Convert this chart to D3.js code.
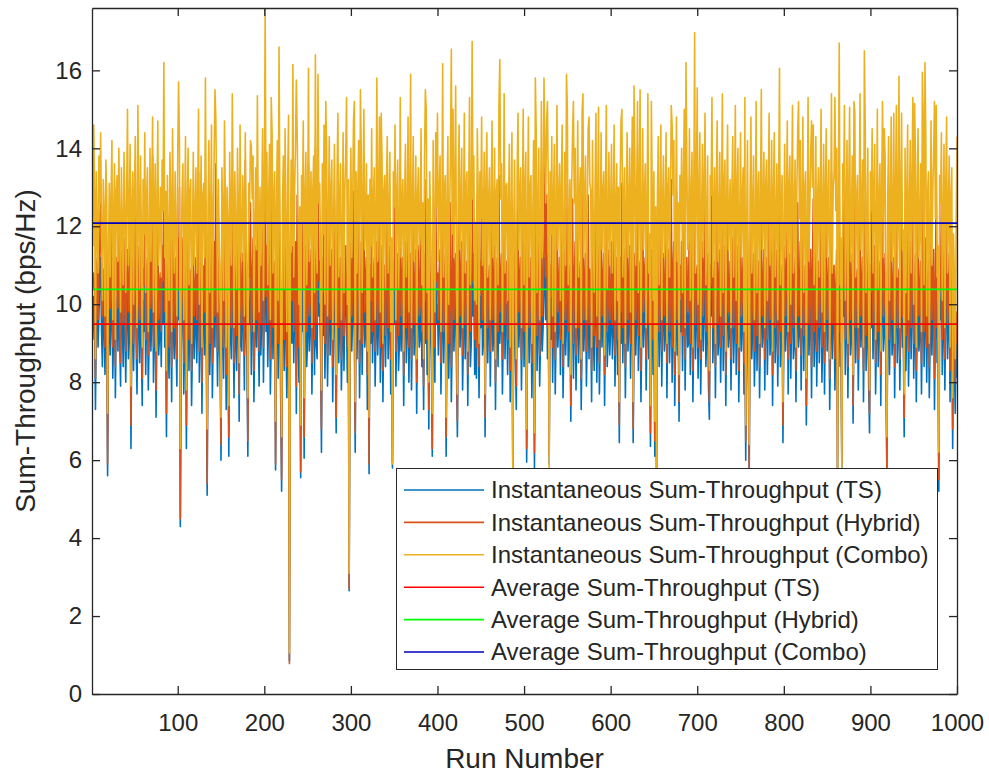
<!DOCTYPE html>
<html>
<head>
<meta charset="utf-8">
<script src="https://d3js.org/d3.v7.min.js"></script>
<style>
  body { margin: 0; background: #fff; }
  text { font-family: "Liberation Sans", Arial, Helvetica, sans-serif; }
</style>
</head>
<body>
<div id="chart"></div>
<script>
// instantaneous sum-throughput per run (runs 1..1000, 20 per row)
var tsValues = [
  9.4, 9.1, 10.2, 9.6, 7.3, 9.8, 10.4, 8.9, 9.7, 10.8, 11.2, 9.3, 8.4, 10.1, 9.5, 8.2, 10.6, 9.9, 5.6, 9.2,
  10.3, 8.7, 9.6, 11.0, 8.1, 9.4, 10.7, 7.6, 9.9, 10.2, 8.8, 11.4, 9.1, 7.9, 10.5, 9.7, 8.4, 10.9, 9.2, 8.0,
  9.8, 10.6, 8.6, 9.3, 11.1, 6.3, 9.5, 10.0, 8.3, 9.9, 11.6, 8.9, 7.7, 10.4, 9.6, 8.5, 10.8, 9.0, 7.4, 10.1,
  9.3, 11.3, 8.2, 9.7, 10.5, 7.8, 9.1, 10.9, 8.8, 9.6, 12.1, 8.0, 9.4, 10.3, 7.1, 9.8, 11.5, 8.7, 9.2, 10.0,
  8.4, 10.7, 9.5, 11.8, 8.9, 9.9, 6.6, 10.2, 9.0, 8.1, 10.8, 9.7, 7.5, 11.0, 9.3, 8.6, 10.4, 9.1, 7.9, 10.6,
  9.6, 11.4, 4.3, 8.8, 9.9, 10.5, 7.7, 9.2, 10.9, 6.3, 9.5, 11.2, 8.3, 9.8, 10.1, 7.4, 9.0, 10.7, 8.6, 9.4,
  10.3, 8.5, 9.7, 11.7, 8.0, 9.3, 10.6, 7.2, 9.9, 10.2, 8.7, 11.0, 9.1, 5.1, 9.6, 10.8, 8.2, 9.4, 11.3, 7.6,
  9.2, 10.5, 8.9, 11.9, 9.7, 7.9, 10.1, 9.0, 8.4, 6.0, 10.4, 9.5, 8.1, 11.1, 9.8, 7.3, 10.0, 9.3, 6.1, 10.7,
  9.4, 8.6, 11.5, 9.9, 7.6, 10.3, 9.1, 8.3, 10.8, 9.6, 7.0, 11.2, 9.0, 8.8, 10.2, 9.7, 7.8, 12.0, 9.3, 8.5,
  6.1, 10.1, 9.5, 11.0, 8.2, 9.8, 10.6, 7.5, 9.2, 10.4, 8.9, 11.6, 9.4, 7.9, 10.0, 8.7, 9.6, 11.3, 8.0, 9.9,
  11.8, 9.3, 10.7, 8.4, 9.7, 10.9, 7.7, 9.1, 11.2, 8.6, 9.8, 10.3, 5.75, 9.5, 11.0, 8.1, 12.3, 9.6, 7.4, 5.2,
  9.7, 10.6, 8.3, 11.4, 9.2, 7.6, 10.1, 9.8, 0.85, 8.9, 10.5, 9.0, 12.2, 8.5, 9.9, 10.8, 7.2, 11.1, 9.4, 8.0,
  9.6, 5.55, 10.2, 9.3, 11.5, 6.05, 9.8, 10.7, 8.4, 9.1, 11.9, 8.8, 9.5, 10.3, 7.7, 9.9, 10.6, 8.2, 11.2, 9.0,
  8.6, 12.6, 9.7, 10.0, 8.9, 6.2, 10.4, 9.2, 11.3, 8.1, 9.6, 10.8, 7.9, 9.4, 11.0, 8.7, 9.8, 10.5, 7.5, 9.3,
  10.9, 9.1, 6.7, 10.2, 11.6, 8.5, 9.7, 10.4, 7.8, 9.0, 11.1, 8.3, 9.9, 10.6, 9.4, 8.0, 10.1, 2.65, 9.5, 10.8,
  8.8, 9.6, 11.4, 9.2, 6.2, 10.3, 8.6, 9.9, 11.0, 7.6, 9.4, 10.7, 8.2, 9.7, 12.0, 8.9, 9.3, 10.5, 7.3, 9.8,
  5.65, 10.1, 9.0, 11.2, 8.5, 9.7, 10.4, 7.9, 9.3, 10.9, 8.7, 9.6, 11.5, 8.0, 9.2, 10.6, 7.5, 9.8, 10.2, 8.4,
  9.9, 11.0, 8.6, 9.4, 10.7, 7.7, 9.1, 5.8, 10.3, 9.5, 11.3, 7.9, 9.8, 10.5, 8.3, 9.0, 11.8, 8.8, 9.6, 10.1,
  7.4, 9.7, 10.8, 8.5, 9.3, 11.4, 8.0, 9.9, 10.2, 7.8, 9.5, 11.0, 8.7, 9.2, 10.6, 7.2, 9.8, 10.4, 8.9, 9.1,
  11.2, 8.4, 9.6, 7.3, 10.5, 9.0, 11.6, 8.2, 9.7, 6.8, 10.3, 9.4, 8.6, 6.1, 10.9, 9.2, 8.0, 11.1, 9.5, 10.0,
  8.7, 9.8, 10.6, 7.7, 9.3, 11.3, 8.5, 9.9, 10.2, 6.1, 9.6, 11.0, 8.1, 9.4, 10.7, 7.5, 9.1, 11.7, 8.8, 9.7,
  10.4, 8.3, 6.6, 10.0, 11.2, 8.9, 9.5, 10.8, 7.8, 9.2, 11.5, 8.6, 9.9, 10.3, 7.4, 9.6, 11.9, 8.4, 9.0, 11.8,
  9.7, 10.5, 8.2, 9.3, 8.1, 11.1, 9.8, 7.6, 10.2, 9.4, 11.4, 8.7, 9.1, 10.6, 6.6, 9.9, 11.0, 8.5, 9.6, 10.3,
  7.9, 9.5, 11.3, 8.8, 9.2, 10.7, 7.3, 9.8, 10.1, 8.4, 11.6, 9.0, 9.7, 10.4, 7.7, 9.3, 11.8, 8.6, 9.9, 10.0,
  8.2, 9.6, 10.8, 7.5, 9.4, 11.0, 5.7, 9.1, 10.5, 8.7, 7.3, 10.2, 11.5, 8.9, 9.7, 10.3, 7.8, 9.5, 11.2, 8.4,
  9.8, 10.6, 5.95, 9.3, 11.4, 8.5, 9.9, 10.1, 7.6, 9.2, 10.9, 5.8, 9.7, 11.1, 8.3, 9.5, 10.7, 7.9, 9.0, 11.7,
  8.8, 9.4, 10.5, 11.2, 9.6, 11.3, 8.6, 9.9, 5.9, 10.2, 9.1, 11.0, 8.0, 9.7, 10.8, 7.7, 9.3, 11.6, 8.9, 9.5,
  10.4, 8.2, 9.8, 11.2, 7.6, 9.0, 10.6, 8.7, 9.5, 11.5, 8.4, 9.2, 10.1, 7.0, 9.9, 11.0, 8.1, 9.6, 10.7, 7.8,
  9.4, 11.3, 8.5, 9.7, 10.3, 7.3, 9.1, 11.8, 8.8, 9.6, 10.5, 7.9, 9.3, 11.1, 8.6, 10.0, 9.8, 7.5, 10.9, 9.2,
  8.3, 9.9, 11.4, 8.0, 9.5, 10.7, 7.7, 9.2, 11.0, 8.9, 9.7, 10.2, 7.4, 9.8, 11.6, 8.4, 9.1, 10.6, 8.7, 9.4,
  10.8, 8.6, 9.3, 11.2, 7.9, 9.6, 10.4, 8.2, 9.9, 6.45, 10.1, 9.0, 11.5, 8.5, 9.7, 10.3, 7.6, 9.4, 11.0, 8.8,
  9.5, 10.7, 8.1, 9.8, 11.3, 6.45, 9.2, 10.5, 8.7, 9.6, 11.7, 8.3, 9.9, 10.0, 7.5, 9.3, 11.1, 8.9, 9.7, 10.4,
  7.8, 9.4, 11.4, 8.6, 9.1, 6.35, 10.6, 9.8, 8.2, 10.2, 6.1, 9.5, 5.7, 9.7, 10.9, 8.4, 9.3, 11.2, 7.9, 9.6,
  10.5, 8.8, 9.2, 11.0, 7.6, 9.9, 10.3, 8.5, 9.4, 11.6, 8.0, 9.7, 10.8, 7.4, 9.1, 11.3, 8.7, 9.6, 7.0, 10.1,
  9.3, 10.7, 8.3, 9.8, 11.5, 7.8, 9.5, 10.4, 8.9, 9.0, 11.1, 8.2, 9.7, 10.6, 7.5, 9.4, 12.1, 8.6, 9.9, 10.2,
  8.1, 9.6, 11.0, 7.7, 9.3, 10.8, 8.8, 9.9, 11.4, 8.4, 9.2, 10.5, 7.9, 7.05, 10.1, 9.7, 11.7, 8.5, 9.4, 10.3,
  7.6, 9.8, 11.2, 8.7, 9.1, 10.6, 8.0, 9.5, 11.8, 8.3, 9.9, 10.4, 7.4, 9.6, 11.1, 8.9, 9.3, 10.0, 7.8, 9.7,
  10.9, 8.5, 9.4, 11.5, 8.2, 9.8, 10.7, 7.5, 9.2, 11.0, 8.8, 9.6, 10.3, 7.7, 9.9, 6.0, 9.1, 10.8, 8.4, 5.6,
  9.7, 11.3, 8.6, 9.4, 10.5, 7.9, 9.0, 11.6, 8.3, 9.8, 10.2, 7.6, 9.5, 11.1, 8.9, 9.3, 10.6, 7.8, 9.9, 10.4,
  8.2, 9.6, 11.4, 8.7, 9.1, 10.8, 7.4, 9.7, 11.0, 8.5, 9.3, 10.3, 7.9, 9.8, 11.7, 8.4, 9.5, 10.1, 6.45, 9.2,
  10.7, 8.8, 9.4, 11.2, 7.7, 9.9, 10.5, 8.1, 9.6, 11.5, 8.6, 9.0, 10.4, 7.5, 9.7, 11.0, 8.9, 9.3, 10.8, 7.8,
  9.5, 11.3, 8.3, 9.8, 10.2, 6.9, 9.1, 11.6, 8.7, 9.4, 10.6, 7.6, 9.9, 11.1, 8.4, 9.2, 10.9, 7.9, 9.6, 10.3,
  8.5, 9.7, 11.4, 8.0, 9.3, 10.7, 7.7, 9.8, 11.0, 8.8, 9.5, 10.4, 7.3, 9.1, 11.8, 8.6, 9.9, 10.1, 7.8, 9.4,
  10.6, 5.7, 9.6, 11.2, 8.4, 9.0, 5.8, 10.3, 9.7, 11.5, 8.2, 9.4, 10.8, 7.6, 9.9, 11.0, 8.7, 9.2, 10.5, 6.95,
  9.8, 11.3, 8.5, 9.6, 10.1, 7.8, 9.3, 11.7, 8.9, 9.5, 10.4, 7.5, 9.7, 11.1, 8.3, 9.1, 10.6, 7.9, 6.7, 10.2,
  9.4, 11.0, 8.6, 9.8, 10.7, 7.7, 9.2, 11.4, 8.4, 9.6, 10.3, 7.4, 9.9, 11.6, 8.8, 9.3, 10.5, 8.0, 5.7, 9.7,
  10.9, 8.2, 9.5, 11.2, 8.7, 9.1, 10.4, 7.6, 9.8, 11.5, 8.5, 9.4, 10.0, 7.8, 9.6, 11.3, 8.9, 9.2, 6.6, 10.6,
  8.3, 9.7, 11.1, 7.9, 9.4, 10.8, 8.6, 9.9, 11.7, 8.1, 9.3, 10.5, 7.5, 9.6, 11.0, 8.8, 9.2, 10.3, 7.7, 9.8,
  11.4, 8.4, 9.5, 10.9, 8.0, 9.7, 10.2, 7.6, 9.1, 11.2, 8.7, 9.8, 10.6, 7.3, 9.4, 11.5, 8.5, 9.0, 5.2, 10.1,
  9.6, 11.0, 8.2, 9.3, 10.7, 7.8, 9.9, 11.3, 8.6, 9.4, 10.5, 7.5, 9.7, 10.2, 6.3, 9.1, 8.4, 7.2, 9.0, 8.1
];

var hybridValues = [
  10.3, 10.4, 10.8, 10.5, 8.1, 10.9, 11.2, 9.6, 11.0, 11.5, 13.1, 10.0, 9.7, 10.9, 10.6, 8.9, 12.6, 10.7, 5.9, 10.4,
  11.1, 9.9, 10.2, 12.9, 8.9, 10.6, 11.3, 8.4, 11.2, 10.9, 9.9, 13.0, 10.3, 8.5, 11.6, 10.4, 9.5, 11.7, 10.1, 8.8,
  10.7, 11.4, 9.8, 10.1, 12.8, 6.9, 10.5, 11.2, 9.0, 10.8, 13.2, 9.7, 8.6, 11.5, 10.3, 9.6, 11.6, 10.2, 8.1, 10.9,
  10.5, 12.8, 9.1, 10.9, 11.2, 8.7, 10.3, 11.6, 9.9, 10.4, 13.8, 8.9, 10.1, 11.4, 7.8, 10.7, 13.1, 9.6, 10.4, 10.8,
  9.3, 11.5, 10.6, 13.3, 9.8, 11.0, 7.2, 11.1, 10.2, 8.9, 12.7, 10.4, 8.4, 12.6, 10.5, 9.4, 11.2, 10.3, 8.6, 11.7,
  10.4, 13.0, 4.5, 9.9, 10.6, 11.7, 8.5, 10.1, 11.6, 6.9, 10.7, 12.8, 9.1, 10.9, 10.8, 8.3, 10.1, 11.5, 9.7, 10.2,
  11.2, 9.6, 10.4, 13.4, 8.8, 10.5, 11.3, 8.0, 11.0, 10.9, 9.8, 12.7, 10.2, 5.4, 10.4, 12.7, 9.0, 10.6, 12.8, 8.5,
  10.1, 11.6, 9.7, 13.6, 10.4, 8.8, 11.2, 9.8, 9.5, 6.4, 11.3, 10.6, 8.9, 12.8, 10.5, 8.2, 11.1, 10.0, 6.6, 11.5,
  10.6, 9.4, 13.1, 10.7, 8.5, 11.4, 10.0, 9.2, 11.5, 10.8, 7.7, 12.9, 10.1, 9.5, 11.3, 10.4, 8.7, 13.7, 10.2, 9.6,
  6.5, 11.0, 10.7, 12.6, 9.3, 10.5, 11.7, 8.3, 10.0, 11.5, 9.6, 13.2, 10.3, 8.8, 11.1, 9.5, 10.8, 12.9, 8.9, 10.6,
  13.5, 10.2, 11.5, 9.5, 10.4, 12.6, 8.6, 10.3, 12.8, 9.4, 10.9, 11.1, 5.9, 10.6, 11.7, 9.0, 14.0, 10.4, 8.3, 5.5,
  10.5, 11.7, 9.1, 13.1, 10.3, 8.4, 11.0, 10.6, 0.78, 9.8, 11.3, 10.1, 13.9, 9.3, 10.8, 11.6, 7.9, 12.8, 10.2, 8.9,
  10.7, 5.7, 11.0, 10.4, 13.0, 6.6, 10.9, 11.5, 9.3, 10.0, 13.6, 9.7, 10.3, 11.4, 8.5, 10.6, 12.6, 9.1, 14.0, 9.9,
  9.5, 14.2, 10.6, 11.1, 9.7, 6.8, 11.2, 10.3, 12.9, 9.0, 10.4, 12.7, 8.7, 10.5, 12.6, 9.6, 10.6, 11.4, 8.4, 10.2,
  12.6, 10.0, 7.1, 11.3, 13.2, 9.4, 10.5, 11.2, 8.6, 10.1, 12.7, 9.2, 10.8, 11.5, 10.2, 8.9, 11.0, 2.7, 10.4, 11.6,
  9.7, 10.5, 12.9, 10.3, 6.7, 11.2, 9.5, 10.8, 12.7, 8.5, 10.2, 11.6, 9.0, 10.9, 13.5, 9.8, 10.4, 11.2, 8.2, 10.6,
  5.9, 11.0, 10.1, 12.8, 9.3, 10.8, 11.2, 8.8, 10.4, 11.6, 9.5, 10.7, 13.1, 8.9, 10.0, 11.5, 8.3, 10.9, 11.0, 9.2,
  10.8, 12.7, 9.4, 10.5, 11.5, 8.6, 10.2, 5.95, 11.1, 10.4, 13.0, 8.8, 10.6, 11.3, 9.2, 10.1, 13.4, 9.7, 10.5, 11.2,
  8.2, 10.8, 11.6, 9.4, 10.1, 13.1, 8.9, 10.7, 11.3, 8.6, 10.4, 12.6, 9.5, 10.3, 11.4, 8.0, 10.6, 11.5, 9.7, 10.0,
  12.8, 9.3, 10.7, 7.9, 11.3, 10.1, 13.2, 9.1, 10.5, 7.3, 11.4, 10.2, 9.4, 6.3, 11.7, 10.3, 8.9, 12.7, 10.6, 10.8,
  9.6, 10.9, 11.4, 8.5, 10.4, 12.9, 9.3, 10.7, 11.3, 6.6, 10.5, 12.7, 9.0, 10.2, 12.6, 8.4, 10.0, 13.3, 9.6, 10.8,
  11.3, 9.2, 7.0, 11.1, 12.8, 9.7, 10.6, 11.6, 8.7, 10.0, 13.1, 9.5, 10.8, 11.1, 8.2, 10.7, 13.4, 9.3, 10.1, 14.6,
  10.6, 11.3, 9.1, 10.4, 8.9, 12.8, 10.5, 8.4, 11.1, 10.3, 13.0, 9.6, 10.0, 11.5, 7.1, 10.8, 12.7, 9.4, 10.7, 11.0,
  8.8, 10.4, 13.0, 9.6, 10.3, 11.5, 8.0, 10.9, 11.2, 9.3, 13.3, 9.8, 10.5, 11.3, 8.6, 10.1, 13.5, 9.5, 10.6, 11.1,
  9.1, 10.7, 11.6, 8.3, 10.2, 12.7, 5.85, 10.0, 11.4, 9.5, 7.9, 11.1, 13.1, 9.8, 10.5, 11.2, 8.6, 10.6, 12.8, 9.3,
  10.7, 11.5, 6.3, 10.2, 13.0, 9.4, 10.6, 11.2, 8.5, 10.1, 12.6, 6.2, 10.8, 12.7, 9.2, 10.3, 11.6, 8.7, 10.0, 13.4,
  9.7, 10.3, 11.4, 13.6, 10.7, 12.8, 9.4, 10.8, 6.1, 11.0, 10.2, 12.6, 8.9, 10.6, 11.5, 8.6, 10.4, 13.2, 9.8, 10.3,
  11.2, 9.1, 10.9, 12.8, 8.4, 10.1, 11.4, 9.6, 10.3, 13.1, 9.3, 10.3, 11.0, 7.4, 10.7, 12.7, 9.0, 10.5, 11.6, 8.7,
  10.3, 12.9, 9.4, 10.8, 11.1, 8.1, 10.2, 13.4, 9.6, 10.4, 11.3, 8.8, 10.1, 12.8, 9.5, 10.9, 10.6, 8.3, 11.7, 10.1,
  9.2, 10.8, 13.0, 8.9, 10.6, 11.5, 8.5, 10.3, 12.6, 9.7, 10.5, 11.3, 8.2, 10.6, 13.2, 9.3, 10.0, 11.4, 9.6, 10.2,
  11.6, 9.5, 10.4, 12.8, 8.7, 10.7, 11.2, 9.1, 10.8, 6.9, 11.2, 9.8, 13.1, 9.4, 10.5, 11.4, 8.4, 10.2, 12.7, 9.6,
  10.4, 11.5, 9.0, 10.9, 12.9, 6.8, 10.3, 11.3, 9.6, 10.4, 13.3, 9.2, 10.7, 11.1, 8.3, 10.1, 12.7, 9.8, 10.8, 11.2,
  8.6, 10.3, 13.0, 9.5, 10.2, 6.7, 11.4, 10.6, 9.1, 11.0, 6.5, 10.4, 5.8, 10.8, 11.7, 9.3, 10.1, 12.8, 8.8, 10.5,
  11.3, 9.7, 10.3, 12.6, 8.5, 10.7, 11.4, 9.3, 10.2, 13.2, 8.9, 10.8, 11.6, 8.2, 10.0, 12.9, 9.6, 10.4, 7.5, 11.0,
  10.2, 11.6, 9.2, 10.6, 13.1, 8.6, 10.6, 11.2, 9.8, 10.1, 12.7, 9.0, 10.5, 11.7, 8.3, 10.3, 13.7, 9.5, 10.8, 11.0,
  8.9, 10.5, 12.6, 8.6, 10.4, 11.6, 9.7, 10.7, 13.0, 9.3, 10.3, 11.3, 8.7, 7.5, 11.0, 10.5, 13.3, 9.4, 10.2, 11.1,
  8.4, 10.6, 12.9, 9.5, 10.2, 11.4, 8.9, 10.3, 13.4, 9.2, 10.7, 11.5, 8.2, 10.4, 12.7, 9.8, 10.1, 11.1, 8.6, 10.5,
  11.7, 9.4, 10.5, 13.1, 9.0, 10.6, 11.5, 8.3, 10.3, 12.6, 9.7, 10.4, 11.2, 8.5, 10.7, 6.5, 10.0, 11.6, 9.3, 5.7,
  10.5, 12.9, 9.5, 10.3, 11.3, 8.8, 10.1, 13.2, 9.2, 10.6, 11.1, 8.4, 10.3, 12.7, 9.7, 10.2, 11.4, 8.6, 10.8, 11.2,
  9.1, 10.4, 13.0, 9.6, 10.0, 11.6, 8.2, 10.8, 12.6, 9.4, 10.1, 11.4, 8.7, 10.6, 13.3, 9.3, 10.3, 11.0, 6.9, 10.1,
  11.5, 9.7, 10.5, 12.8, 8.6, 10.7, 11.3, 9.0, 10.4, 13.1, 9.4, 10.1, 11.2, 8.3, 10.6, 12.6, 9.7, 10.2, 11.6, 8.7,
  10.3, 12.9, 9.2, 10.9, 11.0, 7.4, 10.2, 13.2, 9.5, 10.3, 11.4, 8.4, 10.8, 12.7, 9.3, 10.1, 11.7, 8.8, 10.4, 11.1,
  9.4, 10.5, 13.0, 8.9, 10.4, 11.5, 8.5, 10.6, 12.7, 9.6, 10.3, 11.2, 8.1, 10.0, 13.4, 9.5, 10.7, 11.0, 8.6, 10.3,
  11.4, 5.8, 10.5, 12.8, 9.3, 10.1, 5.9, 11.1, 10.5, 13.1, 9.1, 10.2, 11.6, 8.4, 10.7, 12.7, 9.6, 10.1, 11.3, 7.4,
  10.6, 12.9, 9.4, 10.7, 10.9, 8.6, 10.4, 13.3, 9.7, 10.3, 11.2, 8.3, 10.5, 12.7, 9.2, 10.0, 11.4, 8.7, 7.2, 11.0,
  10.3, 12.6, 9.5, 10.6, 11.5, 8.5, 10.3, 13.0, 9.3, 10.4, 11.1, 8.2, 10.7, 13.2, 9.7, 10.2, 11.3, 8.9, 5.8, 10.5,
  11.7, 9.1, 10.4, 12.8, 9.6, 10.2, 11.2, 8.4, 10.6, 13.1, 9.4, 10.5, 10.9, 8.6, 10.4, 12.9, 9.7, 10.1, 7.1, 11.4,
  9.2, 10.5, 12.7, 8.8, 10.5, 11.6, 9.4, 10.7, 13.3, 9.0, 10.4, 11.3, 8.3, 10.4, 12.6, 9.7, 10.1, 11.1, 8.5, 10.6,
  13.0, 9.3, 10.4, 11.7, 8.9, 10.5, 11.1, 8.4, 10.2, 12.8, 9.6, 10.6, 11.4, 8.1, 10.3, 13.1, 9.4, 10.0, 5.5, 10.9,
  10.4, 12.6, 9.1, 10.4, 11.5, 8.6, 10.7, 12.9, 9.5, 10.2, 11.3, 8.3, 10.6, 11.0, 6.8, 10.0, 9.3, 8.0, 9.8, 9.0
];

var comboValues = [
  12.5, 11.5, 14.6, 12.9, 8.6, 13.4, 11.9, 10.8, 13.8, 12.6, 14.4, 11.7, 10.1, 13.2, 12.4, 9.7, 13.7, 12.8, 7.2, 11.2,
  13.1, 10.7, 12.7, 14.2, 9.6, 12.2, 13.6, 9.1, 12.9, 13.3, 11.1, 14.0, 12.1, 9.8, 13.5, 11.8, 10.5, 13.9, 12.5, 10.3,
  12.8, 15.0, 11.0, 12.1, 14.1, 7.9, 12.6, 13.4, 10.0, 12.9, 14.3, 11.4, 9.4, 15.1, 12.4, 10.4, 13.8, 11.9, 8.9, 13.2,
  11.8, 14.4, 10.3, 12.7, 13.5, 9.3, 11.5, 14.0, 11.1, 12.6, 14.8, 9.8, 12.2, 13.6, 8.8, 12.5, 14.7, 11.0, 11.9, 13.0,
  10.7, 13.7, 12.4, 16.2, 11.2, 12.9, 8.3, 13.3, 11.7, 10.1, 13.9, 12.7, 9.3, 14.5, 12.2, 10.8, 13.4, 11.8, 9.7, 13.8,
  15.7, 14.1, 6.3, 11.4, 12.8, 13.6, 9.6, 12.1, 14.3, 7.8, 12.5, 14.0, 10.5, 12.9, 13.2, 9.0, 11.5, 13.9, 11.0, 12.2,
  13.5, 10.8, 12.6, 15.0, 10.0, 11.9, 13.8, 8.9, 12.8, 13.1, 11.2, 15.8, 11.8, 6.8, 12.4, 14.2, 10.3, 12.2, 14.6, 9.4,
  11.9, 13.7, 15.5, 14.8, 12.6, 9.8, 13.2, 11.5, 10.7, 7.1, 13.5, 12.4, 10.1, 14.7, 12.7, 8.9, 13.0, 12.1, 7.4, 13.9,
  12.2, 11.0, 15.4, 12.8, 9.4, 13.4, 11.7, 10.4, 14.0, 12.5, 8.5, 14.6, 11.5, 11.1, 13.3, 12.6, 9.7, 14.4, 11.9, 10.7,
  7.6, 13.1, 12.4, 14.2, 14.05, 12.7, 13.8, 9.3, 11.8, 13.5, 11.4, 15.35, 12.1, 9.8, 13.0, 11.0, 12.5, 14.5, 10.1, 12.9,
  17.6, 12.1, 13.9, 10.5, 12.6, 14.1, 9.6, 15.3, 14.4, 10.8, 12.8, 13.4, 7.0, 12.4, 14.2, 10.1, 16.6, 12.5, 9.0, 6.6,
  12.6, 13.8, 10.4, 14.5, 11.9, 9.3, 13.2, 14.85, 1.05, 11.2, 13.7, 11.5, 16.15, 10.7, 12.9, 14.0, 15.75, 14.3, 12.2, 10.0,
  12.5, 6.9, 13.3, 12.1, 14.7, 7.6, 12.8, 13.9, 10.5, 11.7, 16.05, 11.1, 12.4, 13.4, 9.4, 12.9, 13.8, 10.3, 16.4, 11.5,
  10.8, 15.9, 12.6, 13.1, 11.4, 7.8, 13.6, 11.8, 14.6, 10.0, 15.2, 14.0, 9.7, 12.2, 14.3, 11.0, 12.8, 13.7, 9.1, 12.1,
  14.1, 11.7, 8.2, 13.3, 14.9, 10.7, 12.7, 13.6, 9.6, 11.5, 14.4, 10.3, 12.9, 13.8, 15.3, 10.0, 13.2, 3.1, 12.4, 14.0,
  11.2, 12.5, 14.7, 15.2, 7.5, 13.4, 10.8, 12.9, 14.2, 9.1, 15.5, 13.9, 10.3, 12.7, 15.0, 11.4, 12.1, 13.6, 8.8, 12.8,
  7.1, 13.2, 11.5, 14.5, 10.7, 12.7, 13.5, 9.6, 12.1, 15.8, 11.1, 12.6, 14.8, 9.8, 14.9, 13.7, 9.0, 12.9, 13.3, 10.4,
  13.0, 14.3, 10.8, 12.2, 13.9, 9.3, 11.7, 5.9, 13.4, 12.5, 14.6, 9.6, 12.8, 13.7, 10.4, 11.5, 15.3, 11.2, 12.6, 13.2,
  8.8, 12.7, 14.1, 10.7, 12.1, 14.8, 9.8, 12.9, 15.9, 9.4, 12.4, 14.3, 11.1, 11.9, 13.8, 8.6, 12.8, 13.5, 11.4, 11.8,
  14.5, 10.5, 12.6, 8.6, 13.7, 15.5, 15.0, 10.3, 12.7, 8.0, 13.4, 12.2, 10.8, 7.2, 14.2, 11.9, 9.8, 14.4, 12.5, 14.9,
  11.1, 12.8, 13.8, 9.3, 12.1, 16.17, 10.7, 12.9, 13.3, 7.1, 12.6, 14.3, 10.0, 12.2, 13.9, 16.54, 11.8, 15.0, 11.2, 12.7,
  15.6, 10.4, 7.7, 13.1, 14.6, 11.4, 12.5, 14.0, 9.4, 11.9, 14.9, 10.8, 13.0, 13.4, 8.8, 12.6, 15.3, 10.5, 11.7, 16.74,
  12.7, 13.8, 10.1, 12.1, 10.0, 14.5, 12.9, 9.0, 13.4, 12.2, 14.8, 11.0, 11.8, 13.9, 7.7, 13.0, 14.4, 10.7, 12.6, 13.5,
  9.6, 12.5, 14.7, 11.2, 11.9, 14.0, 8.6, 12.9, 13.2, 10.5, 15.1, 16.28, 12.7, 13.6, 9.3, 12.1, 15.4, 10.8, 13.0, 13.1,
  10.1, 12.6, 14.1, 8.9, 12.2, 14.4, 5.6, 11.8, 13.7, 11.1, 8.6, 13.4, 14.9, 11.4, 12.8, 13.5, 9.4, 12.5, 15.0, 10.5,
  12.9, 13.9, 6.8, 12.1, 14.8, 10.7, 13.0, 13.3, 9.0, 11.9, 14.2, 6.7, 15.8, 14.5, 10.3, 12.5, 14.0, 9.6, 11.5, 15.2,
  11.2, 12.4, 15.8, 14.0, 12.6, 14.7, 15.2, 13.0, 5.7, 13.4, 11.8, 14.3, 9.7, 12.7, 14.1, 9.3, 12.1, 15.1, 11.4, 12.5,
  13.6, 10.1, 12.9, 14.6, 9.0, 11.7, 13.9, 11.0, 15.9, 15.0, 10.5, 11.9, 13.2, 8.2, 13.0, 14.4, 15.2, 12.6, 14.0, 9.4,
  12.4, 14.7, 10.7, 12.8, 13.5, 8.6, 14.9, 15.4, 11.2, 12.6, 13.8, 9.6, 12.1, 14.5, 14.8, 13.1, 12.9, 8.9, 14.2, 11.9,
  10.3, 13.0, 14.9, 9.7, 12.5, 15.05, 9.1, 11.9, 14.4, 11.4, 12.8, 13.4, 8.7, 12.9, 15.1, 10.4, 11.8, 13.9, 11.0, 12.4,
  14.1, 10.8, 12.1, 14.6, 9.6, 12.6, 13.6, 10.1, 13.0, 7.5, 13.2, 14.7, 15.0, 10.7, 12.7, 13.5, 9.0, 12.4, 14.4, 11.2,
  12.5, 14.0, 9.8, 12.9, 14.8, 7.5, 15.6, 13.7, 11.0, 12.6, 15.2, 10.3, 13.0, 15.5, 8.9, 12.1, 14.5, 11.4, 12.8, 13.6,
  9.4, 12.4, 15.4, 10.8, 11.8, 7.4, 15.2, 12.9, 10.1, 13.4, 7.0, 12.5, 5.6, 12.8, 14.3, 10.5, 12.2, 14.6, 9.6, 12.6,
  13.8, 11.2, 11.9, 14.4, 9.0, 13.0, 13.5, 10.7, 12.4, 15.1, 14.6, 12.8, 14.2, 8.8, 11.8, 14.8, 11.1, 12.6, 8.2, 13.3,
  12.1, 14.0, 10.3, 12.9, 15.0, 9.4, 16.2, 13.6, 11.4, 11.7, 14.5, 10.1, 12.8, 13.9, 8.9, 12.4, 16.97, 10.8, 13.0, 15.55,
  10.0, 12.6, 14.4, 9.1, 12.2, 14.1, 11.2, 13.0, 14.9, 10.5, 11.9, 13.8, 9.6, 8.3, 13.3, 12.8, 15.3, 10.7, 12.4, 13.5,
  9.0, 12.9, 14.7, 11.1, 11.8, 13.9, 9.7, 12.5, 15.4, 10.3, 13.0, 13.7, 8.8, 12.6, 14.6, 11.4, 12.2, 13.2, 9.4, 12.8,
  14.3, 10.7, 12.4, 15.1, 10.1, 12.9, 14.0, 8.9, 11.9, 14.4, 11.2, 12.7, 13.5, 9.3, 15.3, 6.9, 11.8, 14.2, 10.5, 6.4,
  12.8, 14.8, 10.8, 12.4, 13.8, 9.6, 11.7, 15.2, 10.3, 12.9, 13.4, 9.0, 12.5, 15.5, 11.4, 12.2, 13.9, 9.4, 13.0, 13.7,
  10.1, 12.7, 14.9, 11.0, 11.8, 14.2, 8.8, 12.8, 14.4, 10.7, 12.2, 13.6, 9.6, 12.9, 16.05, 10.5, 12.5, 13.3, 7.5, 11.9,
  14.1, 11.2, 12.4, 14.7, 9.3, 13.0, 13.8, 10.0, 12.7, 15.1, 10.8, 11.7, 13.7, 8.9, 12.8, 14.4, 15.2, 12.2, 14.2, 9.4,
  12.5, 14.8, 10.3, 12.9, 13.4, 8.1, 11.8, 15.3, 11.1, 12.4, 13.9, 14.7, 13.0, 14.6, 10.5, 11.9, 14.3, 9.6, 12.7, 13.5,
  10.7, 12.8, 15.0, 9.8, 12.2, 14.1, 9.3, 12.9, 14.5, 11.2, 12.5, 13.7, 8.6, 11.8, 15.4, 10.8, 13.0, 13.3, 15.3, 12.4,
  14.0, 5.6, 12.6, 16.7, 10.5, 11.7, 5.7, 13.6, 12.8, 15.1, 10.1, 12.4, 14.2, 9.0, 13.0, 15.05, 11.1, 11.9, 13.8, 8.2,
  15.2, 14.9, 10.7, 12.7, 13.3, 9.4, 12.2, 15.4, 11.4, 12.5, 13.7, 8.9, 16.5, 14.6, 10.3, 11.8, 14.0, 9.6, 7.8, 13.4,
  12.4, 14.5, 10.8, 12.9, 14.1, 9.1, 11.9, 15.0, 10.4, 12.6, 13.6, 8.8, 13.0, 15.2, 11.2, 14.5, 13.8, 9.8, 6.6, 12.8,
  14.3, 10.1, 12.5, 14.8, 11.1, 11.8, 14.9, 9.0, 12.9, 15.1, 10.7, 12.4, 15.85, 9.4, 12.7, 14.9, 11.4, 11.9, 7.7, 14.0,
  10.3, 12.8, 14.6, 9.6, 12.4, 14.2, 10.8, 13.0, 15.3, 10.0, 15.15, 13.8, 8.9, 12.7, 14.5, 11.2, 11.9, 13.6, 9.3, 15.95,
  14.8, 10.5, 16.2, 14.3, 9.7, 12.8, 13.4, 9.0, 11.8, 14.7, 11.0, 12.9, 13.9, 15.2, 12.2, 15.1, 10.7, 11.5, 6.2, 13.3,
  12.6, 14.4, 10.1, 12.1, 14.1, 9.4, 13.0, 14.8, 10.8, 12.4, 13.8, 8.9, 12.8, 13.5, 7.6, 11.8, 10.7, 8.6, 11.9, 14.3
];

// averages
var averageValues = [9.49, 10.38, 12.08];

var instantNames = ["Instantaneous Sum-Throughput (TS)", "Instantaneous Sum-Throughput (Hybrid)", "Instantaneous Sum-Throughput (Combo)"];
var averageNames = ["Average Sum-Throughput (TS)", "Average Sum-Throughput (Hybrid)", "Average Sum-Throughput (Combo)"];
var instantColors = ["#0072BD", "#D95319", "#EDB120"];
var averageColors = ["#FF0000", "#00FF00", "#0000C0"];

var xTicks = [100, 200, 300, 400, 500, 600, 700, 800, 900, 1000];
var yTicks = [0, 2, 4, 6, 8, 10, 12, 14, 16];

var w = 989, h = 773;
var m = {left: 92, right: 957, top: 8, bottom: 694};
var ink = "#262626";

var svg = d3.select("#chart").append("svg").attr("width", w).attr("height", h);

var x = d3.scaleLinear().domain([1, 1000]).range([m.left, m.right]);
var y = d3.scaleLinear().domain([0, 17.6]).range([m.bottom, m.top]);

svg.append("defs").append("clipPath").attr("id", "plotclip")
  .append("rect").attr("x", m.left).attr("y", m.top)
  .attr("width", m.right - m.left).attr("height", m.bottom - m.top);

var plot = svg.append("g").attr("clip-path", "url(#plotclip)");

var line = d3.line()
  .x(function(d, i) { return x(i + 1); })
  .y(function(d) { return y(d); });

[tsValues, hybridValues, comboValues].forEach(function(vals, k) {
  plot.append("path").datum(vals)
    .attr("d", line)
    .attr("fill", "none")
    .attr("stroke", instantColors[k])
    .attr("stroke-width", 1.6)
    .attr("stroke-linejoin", "round");
});

averageValues.forEach(function(v, k) {
  plot.append("line")
    .attr("x1", x(1)).attr("x2", x(1000))
    .attr("y1", y(v)).attr("y2", y(v))
    .attr("stroke", averageColors[k])
    .attr("stroke-width", 1.7);
});

// axes, ticks pointing inwards on all four sides
function styleAxis(g) {
  g.attr("color", ink).attr("font-family", null).attr("font-size", null);
  g.selectAll(".domain, .tick line").attr("stroke-width", 1.3);
  g.selectAll(".tick text").attr("font-size", 24).attr("fill", ink);
}

svg.append("g").attr("transform", "translate(0," + m.bottom + ")")
  .call(d3.axisBottom(x).tickValues(xTicks).tickFormat(d3.format("d"))
    .tickSizeInner(-8).tickSizeOuter(0).tickPadding(20))
  .call(styleAxis);
svg.append("g").attr("transform", "translate(0," + m.top + ")")
  .call(d3.axisTop(x).tickValues(xTicks).tickSizeInner(-8).tickSizeOuter(0).tickFormat(""))
  .call(styleAxis);
svg.append("g").attr("transform", "translate(" + m.left + ",0)")
  .call(d3.axisLeft(y).tickValues(yTicks).tickSizeInner(-8).tickSizeOuter(0).tickPadding(10))
  .call(styleAxis);
svg.append("g").attr("transform", "translate(" + m.right + ",0)")
  .call(d3.axisRight(y).tickValues(yTicks).tickSizeInner(-8).tickSizeOuter(0).tickFormat(""))
  .call(styleAxis);

svg.append("text")
  .attr("x", (m.left + m.right) / 2).attr("y", 768)
  .attr("text-anchor", "middle").attr("font-size", 28).attr("fill", ink)
  .text("Run Number");

svg.append("text")
  .attr("transform", "translate(35," + ((m.top + m.bottom) / 2) + ") rotate(-90)")
  .attr("text-anchor", "middle").attr("font-size", 28).attr("fill", ink)
  .text("Sum-Throughput (bps/Hz)");

// legend
var legend = svg.append("g");
legend.append("rect")
  .attr("x", 396.5).attr("y", 468.5).attr("width", 541).attr("height", 201)
  .attr("fill", "#fff").attr("stroke", ink).attr("stroke-width", 1);

var entries = instantNames.map(function(n, k) { return {name: n, color: instantColors[k]}; })
  .concat(averageNames.map(function(n, k) { return {name: n, color: averageColors[k]}; }));

var rowY = d3.scaleLinear().domain([0, 5]).range([490, 652]);

entries.forEach(function(e, k) {
  var yy = rowY(k);
  legend.append("line")
    .attr("x1", 404).attr("x2", 484).attr("y1", yy).attr("y2", yy)
    .attr("stroke", e.color).attr("stroke-width", 1.6);
  legend.append("text")
    .attr("x", 491).attr("y", yy).attr("dy", "0.35em")
    .attr("font-size", 24).attr("fill", ink)
    .text(e.name);
});
</script>
</body>
</html>
